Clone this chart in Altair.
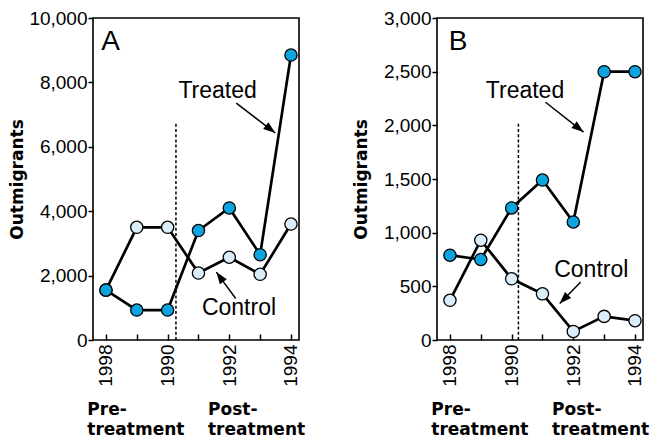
import altair as alt
import pandas as pd

# ---------------- data ----------------
years = [1988, 1989, 1990, 1991, 1992, 1993, 1994]
year_labels = {1988: "1998", 1990: "1990", 1992: "1992", 1994: "1994"}

a_treated = [1550, 930, 930, 3400, 4100, 2650, 8850]
a_control = [1550, 3500, 3500, 2080, 2570, 2040, 3600]
b_treated = [790, 750, 1230, 1490, 1100, 2500, 2500]
b_control = [370, 930, 570, 430, 80, 220, 180]

a_yticks = [0, 2000, 4000, 6000, 8000, 10000]
b_yticks = [0, 500, 1000, 1500, 2000, 2500, 3000]

series_names = ["Treated", "Control"]
pre_label = ["Pre-", "treatment"]
post_label = ["Post-", "treatment"]

TREATED_FILL = "#0ca4de"
CONTROL_FILL = "#dcedfa"

X_DOMAIN = [1987.58, 1994.26]
W, H = 206, 322

label_expr = "".join(f"datum.value == {k} ? '{v}' : " for k, v in year_labels.items()) + "''"


def panel(treated, control, ymax, yticks, letter, ann):
    xs = alt.X("year:Q",
               scale=alt.Scale(domain=X_DOMAIN, nice=False, zero=False),
               axis=alt.Axis(values=years, labelExpr=label_expr, labelAngle=270,
                             domain=False, offset=-6, tickSize=6, tickWidth=1.5,
                             tickColor="black", labelPadding=4, grid=False,
                             labelFont="Liberation Sans", labelFontSize=19,
                             labelColor="black", title=None))
    ys = alt.Y("value:Q",
               scale=alt.Scale(domain=[0, ymax], nice=False),
               axis=alt.Axis(values=yticks, format=",.0f", domain=False, tickSize=5,
                             tickWidth=1.5, tickColor="black", labelPadding=1,
                             grid=False, labelFont="Liberation Sans", labelFontSize=19,
                             labelColor="black", title="Outmigrants",
                             titleFont="DejaVu Sans", titleFontWeight="bold",
                             titleFontSize=17, titleColor="black",
                             titleX=-66.5, titleY=H / 2, titleAngle=270,
                             titleBaseline="bottom", titleAlign="center"))

    df = pd.DataFrame({
        "year": years * 2,
        "value": treated + control,
        "series": [series_names[0]] * len(years) + [series_names[1]] * len(years),
    })
    base = alt.Chart(df)

    dash = alt.Chart(pd.DataFrame({"year": [ann["dash_x"]], "value": [0],
                                   "value2": [ann["dash_top"]]})).mark_rule(
        color="black", strokeWidth=1.5, strokeDash=[3, 2.2]).encode(x=xs, y=ys, y2="value2:Q")

    lines = base.mark_line(color="black", strokeWidth=2.7).encode(
        x=xs, y=ys, detail="series:N")

    pts_c = base.transform_filter(alt.datum.series == "Control").mark_point(
        filled=True, fill=CONTROL_FILL, stroke="black", strokeWidth=1.3,
        size=150, opacity=1, shape="circle").encode(x=xs, y=ys)
    pts_t = base.transform_filter(alt.datum.series == "Treated").mark_point(
        filled=True, fill=TREATED_FILL, stroke="black", strokeWidth=1.3,
        size=150, opacity=1, shape="circle").encode(x=xs, y=ys)

    # arrows: tip at (year, value), tail at (year2, value2)
    arrows = pd.DataFrame(ann["arrows"], columns=["year2", "value2", "year", "value", "angle"])
    shafts = alt.Chart(arrows).mark_rule(color="black", strokeWidth=1.5).encode(
        x=xs, y=ys, x2="year2:Q", y2="value2:Q")
    heads = alt.Chart(arrows).mark_point(
        filled=True, color="black", strokeWidth=0, opacity=1, size=576,
        shape="M0,0L-0.36,1L0.36,1Z").encode(
        x=xs, y=ys, angle=alt.Angle("angle:Q", scale=None))

    labels = pd.DataFrame(ann["labels"], columns=["year", "value", "label"])
    lab = alt.Chart(labels).mark_text(
        font="Liberation Sans", fontSize=23, color="black", align="center",
        baseline="alphabetic").encode(x=xs, y=ys, text="label:N")

    letter_t = alt.Chart(pd.DataFrame({"year": [ann["letter"][0]], "value": [ann["letter"][1]],
                                       "label": [letter]})).mark_text(
        font="Liberation Sans", fontSize=28, color="black", align="left",
        baseline="alphabetic").encode(x=xs, y=ys, text="label:N")

    pre = alt.Chart(pd.DataFrame({"year": [ann["pre"][0]], "value": [ann["pre"][1]]})).mark_text(
        text=pre_label, font="DejaVu Sans", fontWeight="bold", fontSize=17, lineHeight=20,
        color="black", align="left", baseline="alphabetic").encode(x=xs, y=ys)
    post = alt.Chart(pd.DataFrame({"year": [ann["post"][0]], "value": [ann["post"][1]]})).mark_text(
        text=post_label, font="DejaVu Sans", fontWeight="bold", fontSize=17, lineHeight=20,
        color="black", align="left", baseline="alphabetic").encode(x=xs, y=ys)

    return alt.layer(dash, lines, pts_c, pts_t, shafts, heads, lab, letter_t, pre, post).properties(
        width=W, height=H)


ann_a = {
    "dash_x": 1990.27, "dash_top": 6760,
    "arrows": [[1992.227, 7355, 1993.491, 6429, 127.6],
               [1992.207, 1287, 1991.578, 2108, 323.9]],
    "labels": [[1991.62, 7509, "Treated"], [1992.314, 772, "Control"]],
    "letter": [1987.85, 9000],
    "pre": [1987.395, -2330], "post": [1991.309, -2330],
}
ann_b = {
    "dash_x": 1990.22, "dash_top": 2028,
    "arrows": [[1991.10, 2215, 1992.33, 1937, 128.7],
               [1992.239, 540, 1991.559, 340, 224.2]],
    "labels": [[1990.433, 2259, "Treated"], [1992.583, 586, "Control"]],
    "letter": [1987.96, 2700],
    "pre": [1987.395, -699], "post": [1991.309, -699],
}

chart_a = panel(a_treated, a_control, 10000, a_yticks, "A", ann_a)
chart_b = panel(b_treated, b_control, 3000, b_yticks, "B", ann_b)

chart = alt.hconcat(chart_a, chart_b, spacing=138, bounds="flush").properties(
    padding={"left": -1, "top": 0, "right": 0, "bottom": 0},
    background="white",
).configure_view(stroke="black", strokeWidth=1.6)

chart.save("out.html", embed_options={"renderer": "svg", "actions": False})
